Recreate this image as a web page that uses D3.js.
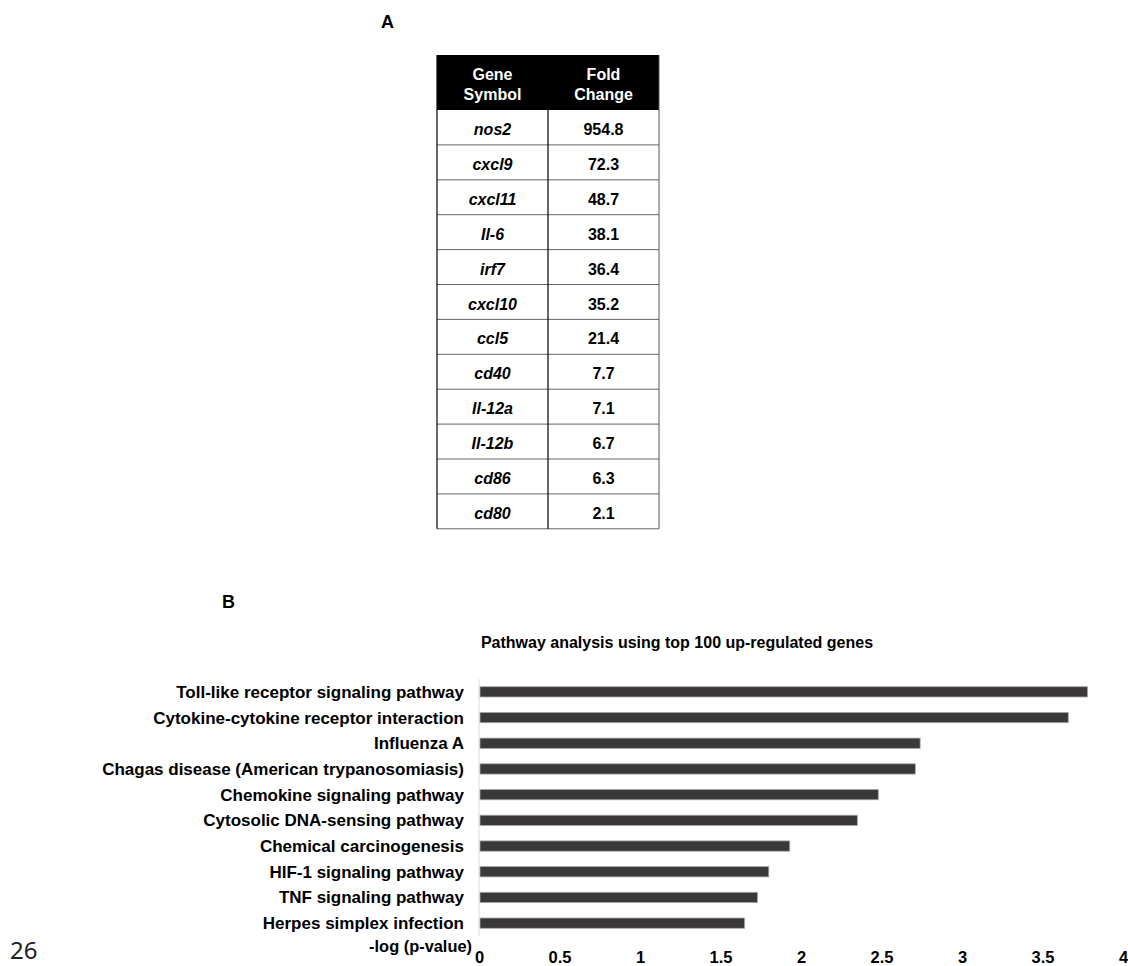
<!DOCTYPE html>
<html>
<head>
<meta charset="utf-8">
<script src="https://cdn.jsdelivr.net/npm/d3@7"></script>
<style>
  body { margin: 0; background: #fff; }
  svg { font-family: "Liberation Sans", Arial, sans-serif; }
</style>
</head>
<body>
<div id="chart"></div>
<script>
const genes = ['nos2', 'cxcl9', 'cxcl11', 'Il-6', 'irf7', 'cxcl10', 'ccl5', 'cd40', 'Il-12a', 'Il-12b', 'cd86', 'cd80'];
const foldChange = ['954.8', '72.3', '48.7', '38.1', '36.4', '35.2', '21.4', '7.7', '7.1', '6.7', '6.3', '2.1'];

const pathways = [
  'Toll-like receptor signaling pathway',
  'Cytokine-cytokine receptor interaction',
  'Influenza A',
  'Chagas disease (American trypanosomiasis)',
  'Chemokine signaling pathway',
  'Cytosolic DNA-sensing pathway',
  'Chemical carcinogenesis',
  'HIF-1 signaling pathway',
  'TNF signaling pathway',
  'Herpes simplex infection'
];
const logP = [3.78, 3.66, 2.74, 2.71, 2.48, 2.35, 1.93, 1.80, 1.73, 1.65];
const xTicks = [0, 0.5, 1, 1.5, 2, 2.5, 3, 3.5, 4];

const width = 1128;
const height = 966;

const svg = d3.select('#chart')
  .append('svg')
  .attr('width', width)
  .attr('height', height);

// panel letters
svg.append('text').attr('x', 381).attr('y', 28)
  .attr('font-size', 18).attr('font-weight', 'bold').text('A');
svg.append('text').attr('x', 222).attr('y', 608)
  .attr('font-size', 18).attr('font-weight', 'bold').text('B');

// ---- table (A)
const tLeft = 437, tMid = 548, tRight = 659;
const headTop = 55, headBottom = 110;
const rowH = 34.9;

const rowY = d3.scaleBand()
  .domain(genes)
  .range([headBottom, headBottom + rowH * genes.length]);

const table = svg.append('g');

table.append('rect')
  .attr('x', tLeft).attr('y', headTop)
  .attr('width', tRight - tLeft).attr('height', headBottom - headTop)
  .attr('fill', '#000');

[['Gene', 'Symbol'], ['Fold', 'Change']].forEach((lines, i) => {
  const cx = i === 0 ? (tLeft + tMid) / 2 : (tMid + tRight) / 2;
  lines.forEach((t, j) => {
    table.append('text')
      .attr('x', cx).attr('y', 80 + j * 20)
      .attr('text-anchor', 'middle')
      .attr('fill', '#fff')
      .attr('font-size', 16).attr('font-weight', 'bold')
      .text(t);
  });
});

const rows = table.selectAll('g.row')
  .data(genes)
  .join('g')
  .attr('class', 'row');

rows.append('line')
  .attr('x1', tLeft).attr('x2', tRight)
  .attr('y1', d => rowY(d) + rowH).attr('y2', d => rowY(d) + rowH)
  .attr('stroke', '#666').attr('stroke-width', 1);

rows.append('text')
  .attr('x', (tLeft + tMid) / 2)
  .attr('y', d => rowY(d) + 25)
  .attr('text-anchor', 'middle')
  .attr('font-size', 16).attr('font-weight', 'bold').attr('font-style', 'italic')
  .text(d => d);

rows.append('text')
  .attr('x', (tMid + tRight) / 2)
  .attr('y', d => rowY(d) + 25)
  .attr('text-anchor', 'middle')
  .attr('font-size', 16).attr('font-weight', 'bold')
  .text((d, i) => foldChange[i]);

const tBottom = headBottom + rowH * genes.length;
table.append('line').attr('x1', tLeft).attr('x2', tLeft)
  .attr('y1', headTop).attr('y2', tBottom).attr('stroke', '#000').attr('stroke-width', 1.2);
table.append('line').attr('x1', tMid).attr('x2', tMid)
  .attr('y1', headBottom).attr('y2', tBottom).attr('stroke', '#000').attr('stroke-width', 1.2);
table.append('line').attr('x1', tRight).attr('x2', tRight)
  .attr('y1', headTop).attr('y2', tBottom).attr('stroke', '#555').attr('stroke-width', 1);

// ---- bar chart (B)
svg.append('text')
  .attr('x', 677).attr('y', 648)
  .attr('text-anchor', 'middle')
  .attr('font-size', 16).attr('font-weight', 'bold')
  .text('Pathway analysis using top 100 up-regulated genes');

const x = d3.scaleLinear()
  .domain([0, 4])
  .range([479, 1123]);

const y = d3.scaleBand()
  .domain(pathways)
  .range([679, 936])
  .paddingInner(0.6)
  .paddingOuter(0.3);

svg.append('line')
  .attr('x1', x(0)).attr('x2', x(0))
  .attr('y1', 679).attr('y2', 936)
  .attr('stroke', '#ddd');

svg.append('g')
  .selectAll('rect')
  .data(pathways)
  .join('rect')
  .attr('x', x(0) + 1)
  .attr('y', d => y(d))
  .attr('width', (d, i) => x(logP[i]) - x(0) - 1)
  .attr('height', y.bandwidth())
  .attr('fill', '#3a3838')
  .attr('stroke', '#a8a8a8')
  .attr('stroke-width', 0.8);

svg.append('g')
  .selectAll('text')
  .data(pathways)
  .join('text')
  .attr('x', 464)
  .attr('y', d => y(d) + y.bandwidth() / 2 + 6)
  .attr('text-anchor', 'end')
  .attr('font-size', 17).attr('font-weight', 'bold')
  .text(d => d);

const xAxis = svg.append('g')
  .attr('transform', 'translate(0, 963)')
  .call(d3.axisBottom(x).tickValues(xTicks).tickSize(0).tickPadding(0).tickFormat(d3.format('')));
xAxis.select('.domain').remove();
xAxis.selectAll('text')
  .attr('font-family', '"Liberation Sans", Arial, sans-serif')
  .attr('font-size', 16.5).attr('font-weight', 'bold')
  .attr('fill', '#000')
  .attr('y', 0)
  .attr('dy', 0);

svg.append('text')
  .attr('x', 472).attr('y', 952)
  .attr('text-anchor', 'end')
  .attr('font-size', 16.4).attr('font-weight', 'bold')
  .text('-log (p-value)');

svg.append('text')
  .attr('x', 10).attr('y', 959)
  .attr('font-family', '"Noto Sans", sans-serif')
  .attr('font-size', 24)
  .attr('fill', '#222')
  .text('26');
</script>
</body>
</html>
